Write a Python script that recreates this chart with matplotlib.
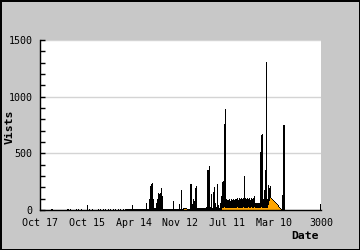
import matplotlib
matplotlib.use("Agg")
import matplotlib.pyplot as plt
from matplotlib.ticker import MultipleLocator

# visits per day (x = day index on the 0-3000 axis)
visit_days = [128, 299, 328, 388, 413, 442, 502, 531, 559, 624, 648, 673, 702, 727,
              755, 780, 809, 834, 862, 887, 916,
              927, 938, 949, 960, 970, 981, 992, 1003, 1013, 1024, 1035, 1046, 1056,
              1067, 1078, 1089, 1099, 1110, 1121, 1132, 1142, 1153,
              1165, 1176, 1186, 1197, 1208, 1219, 1229, 1240, 1251, 1261, 1272, 1283,
              1293, 1304,
              1315, 1326, 1336, 1347, 1358, 1369, 1379, 1390, 1401, 1412, 1422, 1433,
              1444, 1455, 1465, 1476, 1487, 1498, 1508, 1519, 1530, 1541, 1551, 1562,
              1573, 1584, 1594,
              1605, 1616, 1627, 1637, 1648, 1659, 1670, 1680, 1691, 1702, 1713, 1723,
              1734, 1745, 1756, 1766, 1777, 1788, 1799, 1809, 1820, 1831, 1842, 1852,
              1863, 1874, 1885, 1895, 1906, 1917, 1927, 1938, 1949, 1960, 1970, 1981,
              1992,
              2003, 2013, 2024, 2035, 2046, 2056, 2067, 2078, 2089, 2099, 2110, 2121,
              2132, 2142, 2153, 2164, 2175, 2185, 2196, 2207, 2218, 2228, 2239, 2250,
              2261, 2271, 2282, 2293, 2304, 2314, 2325, 2336, 2347,
              2357, 2368, 2379, 2390, 2400, 2411, 2422, 2433, 2443, 2454, 2465, 2476,
              2486, 2497, 2508, 2519, 2529, 2540, 2551, 2562, 2572, 2583, 2594, 2605,
              2615, 2996]
visits = [10, 8, 8, 8, 8, 8, 45, 10, 10, 8, 8, 8, 10, 10,
          10, 10, 10, 8, 10, 10, 10,
          10, 10, 10, 10, 10, 10, 45, 10, 10, 10, 10, 10, 10,
          10, 10, 10, 10, 10, 10, 60, 10, 10,
          100, 210, 230, 240, 100, 20, 15, 60, 100, 150, 140, 150,
          190, 120,
          10, 10, 10, 10, 10, 10, 10, 10, 10, 10, 80, 10,
          10, 10, 10, 10, 50, 10, 180, 10, 15, 20, 15, 20,
          10, 10, 10,
          230, 230, 50, 100, 80, 190, 210, 20, 20, 20, 20, 20,
          20, 20, 20, 20, 25, 350, 350, 390, 30, 140, 20, 160,
          200, 60, 30, 230, 40, 20, 60, 120, 250, 260, 760, 890,
          100,
          90, 85, 95, 80, 100, 90, 95, 85, 100, 95, 105, 90,
          110, 100, 110, 95, 110, 300, 110, 95, 105, 100, 110, 90,
          105, 100, 110, 120, 60, 60, 60, 60, 60,
          510, 660, 670, 100, 180, 350, 1310, 100, 220, 190, 210, 110,
          100, 90, 80, 70, 60, 50, 40, 30, 20, 10, 130, 750,
          260, 50]

# second series (orange)
uniq_days = [1541, 1551, 1562,
             1949, 1960, 1970, 1981, 1992, 2003, 2013, 2024, 2035, 2046, 2056, 2067,
             2078, 2089, 2099, 2110, 2121, 2132, 2142, 2153, 2164, 2175, 2185, 2196,
             2207, 2218, 2228, 2239, 2250, 2261, 2271, 2282, 2293, 2304, 2314, 2325,
             2336, 2347, 2357, 2368, 2379, 2390, 2400, 2411, 2422, 2433, 2443, 2454,
             2465, 2476, 2486, 2497, 2508, 2519, 2529, 2540, 2551, 2562, 2572]
uniq = [10, 10, 10,
        15, 20, 25, 20, 15, 15, 20, 15, 15, 20, 15, 15,
        20, 15, 15, 25, 15, 15, 20, 15, 15, 25, 15, 20,
        15, 15, 25, 15, 20, 30, 15, 20, 25, 15, 20, 15,
        20, 15, 20, 25, 20, 15, 20, 20, 20, 20, 40, 80,
        110, 100, 90, 80, 70, 60, 50, 40, 30, 20, 10]

tick_pos = [0, 500, 1000, 1500, 2000, 2500, 3000]
tick_labels = ["Oct 17", "Oct 15", "Apr 14", "Nov 12", "Jul 11", "Mar 10", "3000"]

plt.rcParams['font.family'] = ['DejaVu Sans Mono']

fig = plt.figure(figsize=(3.6, 2.5), dpi=100, facecolor='#c8c8c8',
                 edgecolor='black', linewidth=1)
ax = fig.add_axes([40 / 360, 40 / 250, 281 / 360, 170 / 250])
ax.set_facecolor('white')

ax.bar(visit_days, visits, width=11, color='black', linewidth=0, align='center')
ax.bar(uniq_days, uniq, width=11, color='#ffa500', linewidth=0, align='center')

ax.set_xlim(0, 3000)
ax.set_ylim(0, 1500)
ax.set_xticks(tick_pos)
ax.set_xticklabels(tick_labels)
ax.yaxis.set_major_locator(MultipleLocator(500))
ax.yaxis.set_minor_locator(MultipleLocator(100))
ax.grid(axis='y', which='major', color='#d4d4d4', linewidth=1)
ax.set_axisbelow(True)

ax.tick_params(axis='y', which='both', direction='in', length=3.5, width=1,
               labelsize=7.2, pad=5.5)
ax.tick_params(axis='x', length=0, labelsize=7.2, pad=5.5)

for s in ['top', 'right']:
    ax.spines[s].set_visible(False)
ax.spines['left'].set_linewidth(1)
ax.spines['bottom'].set_linewidth(1)

fig.text(9.5 / 360, 1 - 127 / 250, "Vists", rotation=90, ha='center', va='center',
         fontsize=8.2, fontweight='bold')
fig.text(319 / 360, 1 - 236 / 250, "Date", ha='right', va='center',
         fontsize=8.2, fontweight='bold')

fig.savefig('out.png', dpi=100, facecolor=fig.get_facecolor(), edgecolor='black')
